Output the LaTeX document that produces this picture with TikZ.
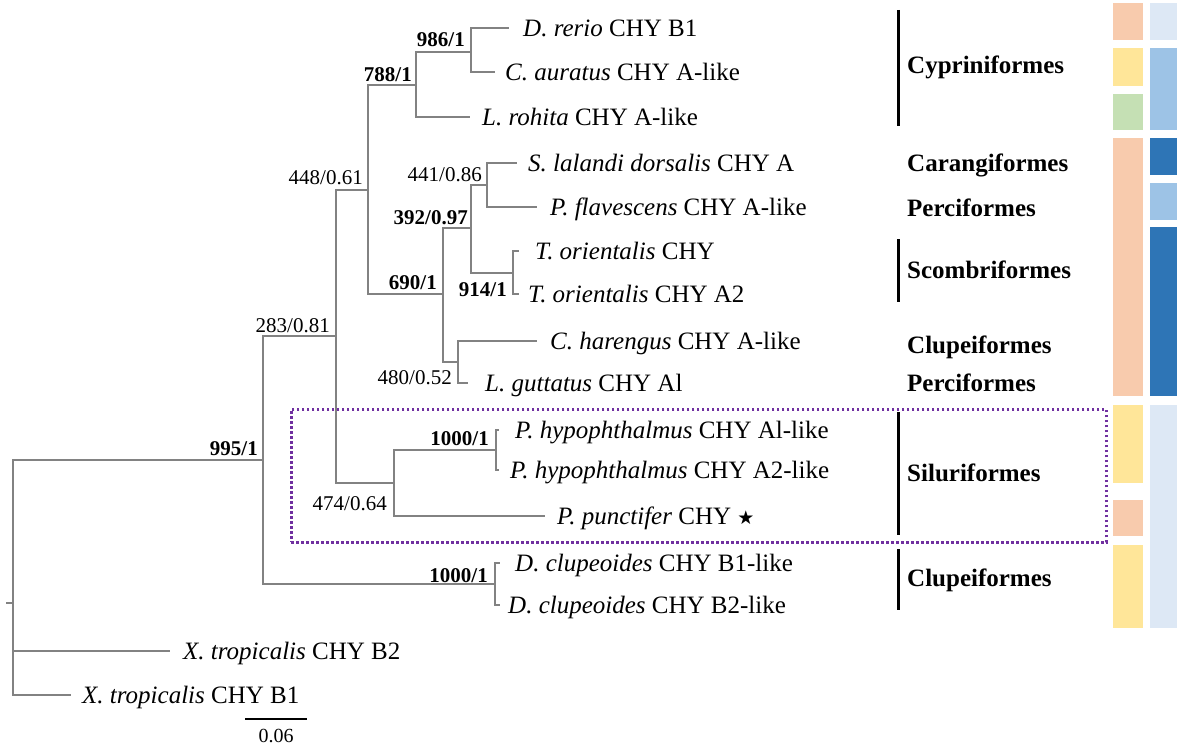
\documentclass[tikz,border=0pt]{standalone}
\usepackage{fontspec}
\setmainfont{Liberation Serif}
\newfontfamily\starfont{DejaVu Sans}
\definecolor{brgray}{RGB}{130,130,130}
\definecolor{salmon}{RGB}{248,203,173}
\definecolor{sand}{RGB}{255,230,153}
\definecolor{sage}{RGB}{197,224,180}
\definecolor{bluelight}{RGB}{221,232,245}
\definecolor{bluemid}{RGB}{157,195,230}
\definecolor{bluedark}{RGB}{46,117,182}
\definecolor{purp}{RGB}{112,48,160}
\begin{document}
\begin{tikzpicture}[x=1pt,y=-1pt,
  branch/.style={draw=brgray,line width=1.8pt},
  leaf/.style={anchor=west,inner sep=0pt,font=\fontsize{25}{30}\selectfont,text height=16.5pt,text depth=0pt},
  supp/.style={anchor=east,inner sep=0pt,font=\fontsize{21}{25}\selectfont,text height=14pt,text depth=0pt},
  suppb/.style={supp,font=\fontsize{21}{25}\selectfont\bfseries},
  ordername/.style={anchor=west,inner sep=0pt,font=\fontsize{25}{30}\selectfont\bfseries,text height=16.5pt,text depth=0pt},
  cladebar/.style={draw=black,line width=3pt},
  hlbox/.style={draw=purp,line width=2.5pt,dash pattern=on 2.5pt off 2.5pt},
]
\fill[white] (0,0) rectangle (1177,749);
\useasboundingbox (0,0) rectangle (1177,749);

% colour blocks
\fill[salmon] (1113,3) rectangle (1143,40);
\fill[sand] (1113,48) rectangle (1143,86);
\fill[sage] (1113,94) rectangle (1143,130);
\fill[salmon] (1113,138) rectangle (1143,396);
\fill[sand] (1113,405) rectangle (1143,483);
\fill[salmon] (1113,500) rectangle (1143,536);
\fill[sand] (1113,545) rectangle (1143,628);
\fill[bluelight] (1150,3) rectangle (1177,40);
\fill[bluemid] (1150,48) rectangle (1177,130);
\fill[bluedark] (1150,138) rectangle (1177,175);
\fill[bluemid] (1150,183) rectangle (1177,220);
\fill[bluedark] (1150,227) rectangle (1177,396);
\fill[bluelight] (1150,405) rectangle (1177,628);

% internal nodes
\coordinate (root) at (12.7,603);
\coordinate (rtick) at (6,603);
\coordinate (n995) at (263,460);
\coordinate (n283) at (336,336);
\coordinate (n448) at (368,190);
\coordinate (n788) at (416,85);
\coordinate (n986) at (470.7,52);
\coordinate (n690) at (443,294);
\coordinate (n392) at (471,228);
\coordinate (n441) at (487,185);
\coordinate (n914) at (513,273);
\coordinate (n480) at (458,362);
\coordinate (n474) at (394,483);
\coordinate (nPhy) at (496,450);
\coordinate (nDcl) at (495,584);

% tips
\coordinate (tDre) at (509,28);
\coordinate (tCau) at (495,72);
\coordinate (tLro) at (470,117);
\coordinate (tSla) at (517,163);
\coordinate (tPfl) at (537,207);
\coordinate (tTo1) at (519,251);
\coordinate (tTo2) at (519,294);
\coordinate (tCha) at (537,341);
\coordinate (tLgu) at (468,383);
\coordinate (tPh1) at (499,430);
\coordinate (tPh2) at (499,470);
\coordinate (tPpu) at (545,516);
\coordinate (tDc1) at (500,563);
\coordinate (tDc2) at (500,605);
\coordinate (tXB2) at (170,651);
\coordinate (tXB1) at (71,695);

% leaf labels
\node[leaf] (lDre) at (523,28) {\textit{D. rerio} CHY B1};
\node[leaf] (lCau) at (505,72) {\textit{C. auratus} CHY A-like};
\node[leaf] (lLro) at (482,117) {\textit{L. rohita} CHY A-like};
\node[leaf] (lSla) at (528,163) {\textit{S. lalandi dorsalis} CHY A};
\node[leaf] (lPfl) at (550,207) {\textit{P. flavescens} CHY A-like};
\node[leaf] (lTo1) at (535,251) {\textit{T. orientalis} CHY};
\node[leaf] (lTo2) at (528,294) {\textit{T. orientalis} CHY A2};
\node[leaf] (lCha) at (550,341) {\textit{C. harengus} CHY A-like};
\node[leaf] (lLgu) at (485,383) {\textit{L. guttatus} CHY Al};
\node[leaf] (lPh1) at (515,430) {\textit{P. hypophthalmus} CHY Al-like};
\node[leaf] (lPh2) at (510,470) {\textit{P. hypophthalmus} CHY A2-like};
\node[leaf] (lPpu) at (557,516) {\textit{P. punctifer} CHY {\starfont\fontsize{19}{22}\selectfont ★}};
\node[leaf] (lDc1) at (515,563) {\textit{D. clupeoides} CHY B1-like};
\node[leaf] (lDc2) at (508,605) {\textit{D. clupeoides} CHY B2-like};
\node[leaf] (lXB2) at (183,651) {\textit{X. tropicalis} CHY B2};
\node[leaf] (lXB1) at (82,695) {\textit{X. tropicalis} CHY B1};

% branches
\draw[branch] (root) -- (rtick);
\draw[branch] (root) |- (n995);
\draw[branch] (root) |- (tXB2);
\draw[branch] (root) |- (tXB1);
\draw[branch] (n995) |- (n283);
\draw[branch] (n995) |- (nDcl);
\draw[branch] (n283) |- (n448);
\draw[branch] (n283) |- (n474);
\draw[branch] (n448) |- (n788);
\draw[branch] (n448) |- (n690);
\draw[branch] (n788) |- (n986);
\draw[branch] (n788) |- (tLro);
\draw[branch] (n986) |- (tDre);
\draw[branch] (n986) |- (tCau);
\draw[branch] (n690) |- (n392);
\draw[branch] (n690) |- (n480);
\draw[branch] (n392) |- (n441);
\draw[branch] (n392) |- (n914);
\draw[branch] (n441) |- (tSla);
\draw[branch] (n441) |- (tPfl);
\draw[branch] (n914) |- (tTo1);
\draw[branch] (n914) |- (tTo2);
\draw[branch] (n480) |- (tCha);
\draw[branch] (n480) |- (tLgu);
\draw[branch] (n474) |- (nPhy);
\draw[branch] (n474) |- (tPpu);
\draw[branch] (nPhy) |- (tPh1);
\draw[branch] (nPhy) |- (tPh2);
\draw[branch] (nDcl) |- (tDc1);
\draw[branch] (nDcl) |- (tDc2);

% support values
\node[suppb] (s986) at (465,40) {986/1};
\node[suppb] (s788) at (412,75) {788/1};
\node[supp] (s448) at (363,177) {448/0.61};
\node[supp] (s441) at (482,174) {441/0.86};
\node[suppb] (s392) at (468,217) {392/0.97};
\node[suppb] (s914) at (507,289) {914/1};
\node[suppb] (s690) at (437,282) {690/1};
\node[supp] (s480) at (452,377) {480/0.52};
\node[supp] (s283) at (330,325) {283/0.81};
\node[suppb] (s995) at (258,448) {995/1};
\node[supp] (s474) at (387,503) {474/0.64};
\node[suppb] (s1000a) at (489,438) {1000/1};
\node[suppb] (s1000b) at (488,575) {1000/1};

% highlight box
\node[hlbox,inner sep=0pt,minimum width=815pt,minimum height=133pt,anchor=north west] (silbox) at (290,408) {};

% order bars and names
\coordinate (bCyT) at (898,10);  \coordinate (bCyB) at (898,126);
\coordinate (bScT) at (898,239); \coordinate (bScB) at (898,302);
\coordinate (bSiT) at (898,412); \coordinate (bSiB) at (898,535);
\coordinate (bClT) at (898,549); \coordinate (bClB) at (898,610);
\draw[cladebar] (bCyT) -- (bCyB);
\draw[cladebar] (bScT) -- (bScB);
\draw[cladebar] (bSiT) -- (bSiB);
\draw[cladebar] (bClT) -- (bClB);
\node[ordername] (oCyp) at (907,65) {Cypriniformes};
\node[ordername] (oCar) at (907,163) {Carangiformes};
\node[ordername] (oPer1) at (907,208) {Perciformes};
\node[ordername] (oSco) at (907,270) {Scombriformes};
\node[ordername] (oClu1) at (907,345) {Clupeiformes};
\node[ordername] (oPer2) at (907,383) {Perciformes};
\node[ordername] (oSil) at (907,473) {Siluriformes};
\node[ordername] (oClu2) at (907,578) {Clupeiformes};

% scale bar
\coordinate (sbL) at (245,719);
\coordinate (sbR) at (307,719);
\draw[black,line width=1.5pt] (sbL) -- (sbR);
\node[inner sep=0pt,font=\fontsize{20}{24}\selectfont] (sbT) at (276,736) {0.06};
\end{tikzpicture}
\end{document}
